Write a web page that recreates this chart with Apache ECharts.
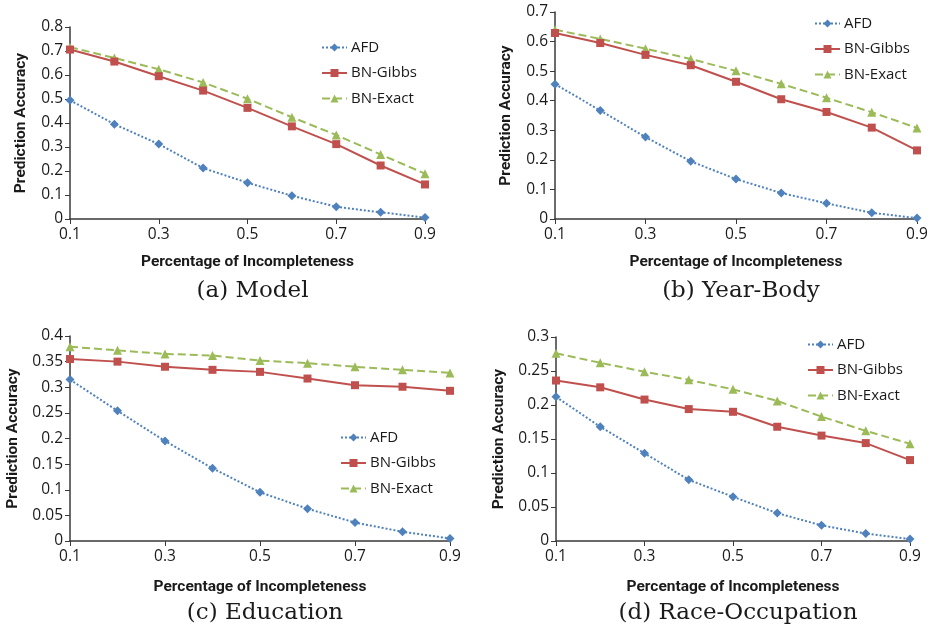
<!DOCTYPE html>
<html>
<head>
<meta charset="utf-8">
<script src="https://cdn.jsdelivr.net/npm/echarts@6/dist/echarts.min.js"></script>
<style>
  html, body { margin: 0; padding: 0; background: #fff; }
  #chart { width: 934px; height: 630px; }
</style>
</head>
<body>
<div id="chart"></div>
<script>
  const xCats = ['0.1', '0.2', '0.3', '0.4', '0.5', '0.6', '0.7', '0.8', '0.9']
  const seriesNames = ['AFD', 'BN-Gibbs', 'BN-Exact']

  // (a) Model
  const modelAFD = [0.495, 0.395, 0.312, 0.212, 0.151, 0.097, 0.051, 0.028, 0.006]
  const modelGibbs = [0.706, 0.656, 0.595, 0.535, 0.463, 0.386, 0.312, 0.223, 0.144]
  const modelExact = [0.716, 0.671, 0.624, 0.569, 0.501, 0.424, 0.350, 0.269, 0.189]

  // (b) Year-Body
  const yearAFD = [0.456, 0.367, 0.277, 0.195, 0.135, 0.088, 0.053, 0.021, 0.003]
  const yearGibbs = [0.629, 0.595, 0.555, 0.520, 0.464, 0.405, 0.362, 0.309, 0.232]
  const yearExact = [0.640, 0.609, 0.576, 0.541, 0.501, 0.457, 0.410, 0.361, 0.308]

  // (c) Education
  const eduAFD = [0.315, 0.254, 0.195, 0.142, 0.095, 0.063, 0.036, 0.018, 0.005]
  const eduGibbs = [0.355, 0.350, 0.340, 0.334, 0.330, 0.317, 0.304, 0.301, 0.293]
  const eduExact = [0.379, 0.372, 0.365, 0.362, 0.352, 0.347, 0.340, 0.334, 0.328]

  // (d) Race-Occupation
  const raceAFD = [0.212, 0.168, 0.129, 0.090, 0.065, 0.041, 0.023, 0.011, 0.003]
  const raceGibbs = [0.236, 0.226, 0.208, 0.194, 0.190, 0.168, 0.155, 0.144, 0.119]
  const raceExact = [0.276, 0.262, 0.249, 0.237, 0.223, 0.206, 0.183, 0.162, 0.143]

  const captions = ['(a) Model', '(b) Year-Body', '(c) Education', '(d) Race-Occupation']
  const yMax = [0.8, 0.7, 0.4, 0.3]
  const yStep = [0.1, 0.1, 0.05, 0.05]

  const panels = [
    { data: [modelAFD, modelGibbs, modelExact], grid: { left: 70, top: 27, width: 355, height: 192 }, legend: { left: 316, top: 35 }, nameGap: 41, xGap: 35 },
    { data: [yearAFD, yearGibbs, yearExact], grid: { left: 555, top: 12, width: 362, height: 207 }, legend: { left: 809, top: 11 }, nameGap: 41, xGap: 35 },
    { data: [eduAFD, eduGibbs, eduExact], grid: { left: 70, top: 336, width: 380, height: 205 }, legend: { left: 335, top: 425 }, nameGap: 49, xGap: 38 },
    { data: [raceAFD, raceGibbs, raceExact], grid: { left: 556, top: 337, width: 354, height: 204 }, legend: { left: 802, top: 332 }, nameGap: 49, xGap: 38 }
  ]

  const styles = [
    { color: '#4F81BD', symbol: 'diamond', symbolSize: 9, lineType: 'dotted', width: 2 },
    { color: '#C0504D', symbol: 'rect', symbolSize: 8, lineType: 'solid', width: 2 },
    { color: '#9BBB59', symbol: 'triangle', symbolSize: 9, lineType: 'dashed', width: 2 }
  ]

  const axisColor = '#3a3a3a'
  const textColor = '#1a1a1a'

  const option = {
    animation: false,
    backgroundColor: '#fff',
    textStyle: { fontFamily: 'Open Sans' },
    grid: panels.map(p => p.grid),
    legend: panels.map(p => ({
      left: p.legend.left,
      top: p.legend.top,
      orient: 'vertical',
      itemWidth: 25,
      itemHeight: 10,
      itemGap: 10.5,
      data: seriesNames,
      textStyle: { fontSize: 15, color: textColor, fontFamily: 'Open Sans', padding: [0, 0, 0, -1] }
    })),
    title: panels.map((p, i) => ({
      text: captions[i],
      left: p.grid.left + p.grid.width / 2,
      top: p.grid.top + p.grid.height + 56,
      textAlign: 'center',
      textStyle: { fontFamily: 'DejaVu Serif', fontWeight: 'normal', fontSize: 23, color: textColor }
    })),
    xAxis: panels.map((p, i) => ({
      type: 'category',
      gridIndex: i,
      data: xCats,
      boundaryGap: false,
      name: 'Percentage of Incompleteness',
      nameLocation: 'middle',
      nameGap: p.xGap,
      nameTextStyle: { fontFamily: 'Roboto', fontWeight: 'bold', fontSize: 15.5, color: textColor },
      axisLine: { lineStyle: { color: axisColor, width: 1.5 } },
      axisTick: { show: true, interval: 1, length: 5, lineStyle: { color: axisColor } },
      axisLabel: { interval: 1, fontSize: 15.5, color: textColor, margin: 8 },
      splitLine: { show: false }
    })),
    yAxis: panels.map((p, i) => ({
      type: 'value',
      gridIndex: i,
      min: 0,
      max: yMax[i],
      interval: yStep[i],
      name: 'Prediction Accuracy',
      nameLocation: 'middle',
      nameGap: p.nameGap,
      nameTextStyle: { fontFamily: 'Roboto', fontWeight: 'bold', fontSize: 15.5, color: textColor },
      axisLine: { show: true, lineStyle: { color: axisColor, width: 1.5 } },
      axisTick: { show: true, length: 5, lineStyle: { color: axisColor } },
      axisLabel: { fontSize: 15.5, color: textColor, margin: 7 },
      splitLine: { show: false }
    })),
    series: []
  }

  panels.forEach((p, i) => {
    p.data.forEach((vals, k) => {
      const s = styles[k]
      option.series.push({
        name: seriesNames[k],
        type: 'line',
        xAxisIndex: i,
        yAxisIndex: i,
        data: vals,
        symbol: s.symbol,
        symbolSize: s.symbolSize,
        itemStyle: { color: s.color },
        lineStyle: { color: s.color, width: s.width, type: s.lineType },
        z: 3 - k
      })
    })
  })

  const chart = echarts.init(document.getElementById('chart'))
  chart.setOption(option)
</script>
</body>
</html>
